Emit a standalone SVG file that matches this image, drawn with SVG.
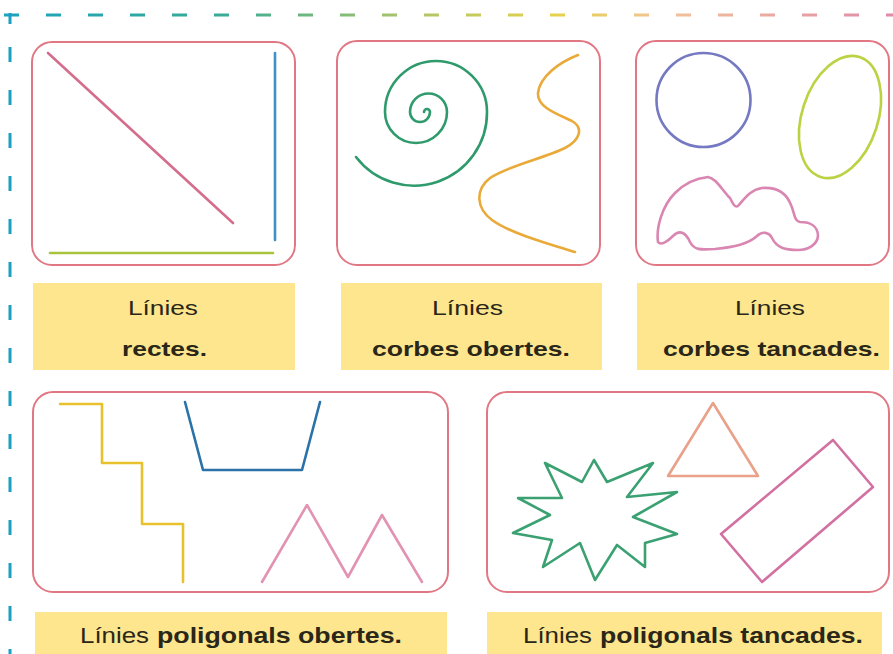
<svg xmlns="http://www.w3.org/2000/svg" width="893" height="654" viewBox="0 0 893 654">
<defs>
<linearGradient id="topDash" gradientUnits="userSpaceOnUse" x1="0" y1="0" x2="893" y2="0">
<stop offset="0" stop-color="#1aa3bd"/>
<stop offset="0.25" stop-color="#3aab95"/>
<stop offset="0.45" stop-color="#a9c46a"/>
<stop offset="0.62" stop-color="#e6d24a"/>
<stop offset="0.75" stop-color="#f2c29a"/>
<stop offset="1" stop-color="#e08aa8"/>
</linearGradient>
</defs>
<style>
.panel{fill:#ffffff;stroke:#e27784;stroke-width:2}
.label{fill:#fde68e}
.t{font-family:"Liberation Sans",Arial,sans-serif;fill:#2a2618}
.r{font-size:21px;font-weight:normal}
.b{font-size:21px;font-weight:bold}
.r2{font-size:22px;font-weight:normal}
.b2{font-size:22px;font-weight:bold}
.ln{fill:none;stroke-width:2.6;stroke-linecap:round;stroke-linejoin:round}
</style>
<rect width="893" height="654" fill="#ffffff"/>
<g id="border">
<line x1="4" y1="15" x2="893" y2="15" stroke="url(#topDash)" stroke-width="3" stroke-dasharray="15 27"/>
<line x1="10" y1="47" x2="10" y2="654" stroke="#1b9fc2" stroke-width="3" stroke-dasharray="15 28"/>
<line x1="10" y1="13" x2="10" y2="24" stroke="#1b9fc2" stroke-width="3"/>
</g>
<g id="rectes">
<rect class="panel" x="32" y="42" width="263" height="223" rx="20"/>
<line class="ln" x1="48" y1="53" x2="233" y2="223" stroke="#d46e8c"/>
<line class="ln" x1="275" y1="53" x2="275" y2="240" stroke="#3d92c6"/>
<line class="ln" x1="50" y1="253" x2="273" y2="253" stroke="#a9c43c"/>
<rect class="label" x="33" y="283" width="262" height="87"/>
<text class="t r" x="128" y="315" textLength="70" lengthAdjust="spacingAndGlyphs">Línies</text>
<text class="t b" x="122" y="356" textLength="85" lengthAdjust="spacingAndGlyphs">rectes.</text>
</g>
<g id="corbes-obertes">
<rect class="panel" x="337" y="41" width="263" height="224" rx="20"/>
<path class="ln" stroke="#2f9a6c" d="M424,112 A3,3 0 0 1 430,112 A10,10 0 0 1 410,112 A18.5,18.5 0 0 1 447,112 A31,31 0 0 1 385,112 A51,51 0 0 1 487,112 A73,73 0 0 1 356,157"/>
<path class="ln" stroke="#eaaa3a" d="M578,55 C560,62 540,76 538,93 C537,108 560,115 572,121 C584,128 580,140 565,148 C545,158 510,165 490,178 C475,190 476,208 492,220 C510,233 545,243 575,252"/>
<rect class="label" x="341" y="283" width="261" height="87"/>
<text class="t r" x="432" y="315" textLength="71" lengthAdjust="spacingAndGlyphs">Línies</text>
<text class="t b" x="372" y="356" textLength="198" lengthAdjust="spacingAndGlyphs">corbes obertes.</text>
</g>
<g id="corbes-tancades">
<rect class="panel" x="636" y="41" width="253" height="224" rx="20"/>
<circle class="ln" cx="703.5" cy="100" r="47" stroke="#7479c2"/>
<ellipse class="ln" cx="840" cy="117" rx="38" ry="63" transform="rotate(18 840 117)" stroke="#bcd243"/>
<path class="ln" stroke="#da86b2" d="M658,242 C656,228 662,206 675,193 C685,183 698,178 708,177 C716,178 722,190 730,198 C733,204 735,208 738,206 C745,198 750,190 762,188 C775,187 786,192 791,205 C795,214 794,221 800,222 C810,222 818,226 818,236 C817,245 808,250 798,250 C785,250 777,248 772,238 C769,232 762,231 757,236 C748,244 735,247 715,249 C700,250 694,250 690,242 C686,233 680,229 673,236 C668,241 661,246 658,242 Z"/>
<rect class="label" x="637" y="283" width="252" height="87"/>
<text class="t r" x="735" y="315" textLength="70" lengthAdjust="spacingAndGlyphs">Línies</text>
<text class="t b" x="663" y="356" textLength="217" lengthAdjust="spacingAndGlyphs">corbes tancades.</text>
</g>
<g id="poligonals-obertes">
<rect class="panel" x="33" y="392" width="415" height="200" rx="20"/>
<polyline class="ln" stroke="#e8c22c" points="60,404 102,404 102,463 142,463 142,524 183,524 183,582"/>
<polyline class="ln" stroke="#2a72a8" points="185,402 203,470 302,470 320,402"/>
<polyline class="ln" stroke="#e293b3" points="262,582 307,505 348,577 382,515 422,582"/>
<rect class="label" x="35" y="612" width="412" height="42"/>
<text class="t r2" x="80" y="643" textLength="69" lengthAdjust="spacingAndGlyphs">Línies</text>
<text class="t b2" x="157" y="643" textLength="245" lengthAdjust="spacingAndGlyphs">poligonals obertes.</text>
</g>
<g id="poligonals-tancades">
<rect class="panel" x="487" y="392" width="402" height="200" rx="20"/>
<polygon class="ln" stroke="#3ba172" points="545,463 582,482 594,460 607,482 653,463 627,497 677,492 633,517 677,534 645,543 645,567 617,545 595,580 580,543 543,567 552,540 513,533 550,515 518,498 562,498"/>
<polygon class="ln" stroke="#e9a18a" points="713,403 668,476 758,476"/>
<polygon class="ln" stroke="#d270a2" points="833,440 873,487 762,582 721,534"/>
<rect class="label" x="487" y="612" width="395" height="42"/>
<text class="t r2" x="523" y="643" textLength="69" lengthAdjust="spacingAndGlyphs">Línies</text>
<text class="t b2" x="600" y="643" textLength="263" lengthAdjust="spacingAndGlyphs">poligonals tancades.</text>
</g>
</svg>
